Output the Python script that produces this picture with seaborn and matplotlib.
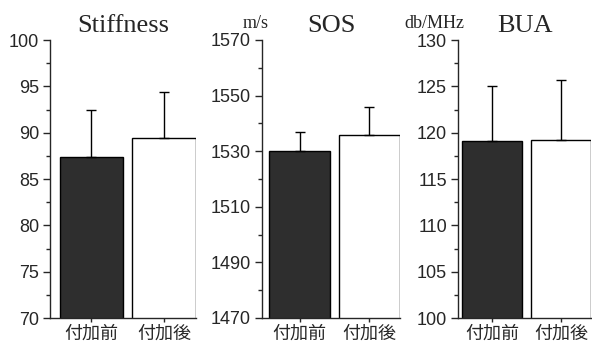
import pandas as pd
import seaborn as sns
import matplotlib.pyplot as plt
from matplotlib.ticker import MultipleLocator

# Data
conditions = ["付加前", "付加後"]
stiffness_mean = [87.4, 89.4]
stiffness_sd = [5.0, 5.0]
sos_mean = [1530, 1536]
sos_sd = [7, 10]
bua_mean = [119.1, 119.2]
bua_sd = [5.9, 6.5]

panels = [
    ("Stiffness", "", stiffness_mean, stiffness_sd, (70, 100), 5, 2.5),
    ("SOS", "m/s", sos_mean, sos_sd, (1470, 1570), 20, 10),
    ("BUA", "db/MHz", bua_mean, bua_sd, (100, 130), 5, 2.5),
]

# axes rectangles in figure fraction (left, width, xlim)
layout = [
    (50 / 592, 146 / 592, (-0.57, 1.44)),
    (262 / 592, 138 / 592, (-0.54, 1.44)),
    (458 / 592, 133 / 592, (-0.50, 1.43)),
]

sns.set_style("ticks")
plt.rcParams["font.family"] = ["Noto Sans CJK JP", "DejaVu Sans"]

fig = plt.figure(figsize=(5.92, 3.49), dpi=100)
bottom = 1 - 318 / 349
height = (318 - 40) / 349

palette = {"付加前": "#2e2e2e", "付加後": "white"}

for (title, unit, means, sds, ylim, major, minor), (left, width, xlim) in zip(panels, layout):
    ax = fig.add_axes([left, bottom, width, height])
    df = pd.DataFrame({"cond": conditions, "value": means})
    sns.barplot(data=df, x="cond", y="value", hue="cond", palette=palette,
                width=0.87, edgecolor="black", linewidth=1.0, ax=ax,
                legend=False, errorbar=None)
    ax.errorbar(range(len(means)), means, yerr=[[0] * len(sds), sds],
                fmt="none", ecolor="black", elinewidth=1.0, capsize=3.5,
                capthick=1.0, zorder=1)
    ax.set_ylim(*ylim)
    ax.set_xlim(*xlim)
    ax.yaxis.set_major_locator(MultipleLocator(major, offset=ylim[0] % major))
    ax.yaxis.set_minor_locator(MultipleLocator(minor, offset=ylim[0] % minor))
    ax.tick_params(axis="y", which="major", length=5, width=1, labelsize=13, pad=3)
    ax.tick_params(axis="y", which="minor", length=3, width=1)
    ax.tick_params(axis="x", length=3, width=1, labelsize=13, pad=2)
    for lab in ax.get_yticklabels():
        lab.set_fontfamily(["Liberation Sans", "DejaVu Sans"])
    ax.set_xlabel("")
    ax.set_ylabel("")
    sns.despine(ax=ax)
    for s in ["left", "bottom"]:
        ax.spines[s].set_linewidth(1.0)
    ax.set_title(title, fontsize=19, family=["Liberation Serif", "DejaVu Serif"], pad=6)
    if unit:
        ax.text(0.05, 1.03, unit, transform=ax.transAxes, ha="right", va="bottom",
                fontsize=13, family=["Liberation Serif", "DejaVu Serif"])

fig.savefig("out.png", dpi=100)
